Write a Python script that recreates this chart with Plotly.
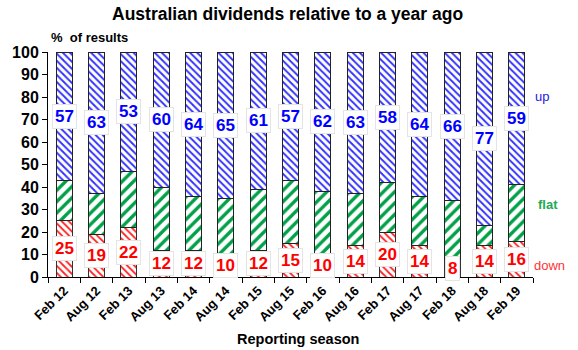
import plotly.graph_objects as go

seasons = ["Feb 12", "Aug 12", "Feb 13", "Aug 13", "Feb 14", "Aug 14", "Feb 15", "Aug 15",
           "Feb 16", "Aug 16", "Feb 17", "Aug 17", "Feb 18", "Aug 18", "Feb 19"]
down = [25, 19, 22, 12, 12, 10, 12, 15, 10, 14, 20, 14, 8, 14, 16]
up = [57, 63, 53, 60, 64, 65, 61, 57, 62, 63, 58, 64, 66, 77, 59]
flat = [100 - u - d for u, d in zip(up, down)]

FONT = "Liberation Sans, Arial, sans-serif"
BLUE = "#3030FF"
GREEN = "#00A048"
RED = "#FF2020"

fig = go.Figure()
fig.add_bar(x=seasons, y=down, name="down",
            marker=dict(color="white", line=dict(color="#333333", width=1),
                        pattern=dict(shape="\\", fgcolor=RED, bgcolor="white", size=5, fgopacity=1, solidity=0.35)))
fig.add_bar(x=seasons, y=flat, name="flat",
            marker=dict(color="white", line=dict(color="#222222", width=1),
                        pattern=dict(shape="/", fgcolor=GREEN, bgcolor="white", size=8, fgopacity=1, solidity=0.42)))
fig.add_bar(x=seasons, y=up, name="up",
            marker=dict(color="white", line=dict(color="#222222", width=1),
                        pattern=dict(shape="\\", fgcolor=BLUE, bgcolor="white", size=5, fgopacity=1, solidity=0.38)))

W, H = 578, 350
L, R, T, B = 48, 45, 52, 73
pw, ph = W - L - R, H - T - B

ann = []
for s, d, f, u in zip(seasons, down, flat, up):
    ann.append(dict(x=s, y=d + f + u / 2, xref="x", yref="y", text=str(u), showarrow=False,
                    font=dict(family=FONT, size=17, color="#0000FF", weight="bold"),
                    bgcolor="white", bordercolor="#E4E4E4", borderwidth=1, borderpad=2))
    ann.append(dict(x=s, y=d / 2, xref="x", yref="y", text=str(d), showarrow=False,
                    font=dict(family=FONT, size=17, color="#FF0000", weight="bold"),
                    bgcolor="white", bordercolor="#E4E4E4", borderwidth=1, borderpad=2))


def px(xp, yp):
    return (xp - L) / pw, 1 - (yp - T) / ph


extra = [
    ("Australian dividends relative to a year ago", 287, 14, 17.5, "black", "bold", "center"),
    ("%  of results", 49, 37, 13, "black", "bold", "left"),
    ("Reporting season", 298, 339, 14.5, "black", "bold", "center"),
    ("up", 533, 96, 13, "#2222DD", "normal", "left"),
    ("flat", 536, 204, 13, "#22AA55", "bold", "left"),
    ("down", 532, 265, 13, "#FF3333", "normal", "left"),
]
for text, xp, yp, size, color, weight, anchor in extra:
    xx, yy = px(xp, yp)
    ann.append(dict(x=xx, y=yy, xref="paper", yref="paper", text=text, showarrow=False,
                    xanchor=anchor, yanchor="middle",
                    font=dict(family=FONT, size=size, color=color, weight=weight)))

fig.update_layout(
    annotations=ann,
    width=W, height=H, barmode="stack", bargap=0.5, showlegend=False,
    margin=dict(l=L, r=R, t=T, b=B),
    plot_bgcolor="white", paper_bgcolor="white",
    font=dict(family=FONT, color="black"),
    xaxis=dict(showline=True, linecolor="black", linewidth=1, ticks="outside", tickson="boundaries",
               ticklen=5, tickcolor="black", tickangle=-45,
               tickfont=dict(family=FONT, size=13, weight="bold"), showgrid=False),
    yaxis=dict(range=[0, 100], dtick=10, showline=True, linecolor="black", linewidth=1,
               ticks="outside", ticklen=5, tickcolor="black", showgrid=False, zeroline=False,
               tickfont=dict(family=FONT, size=16, weight="bold")),
)

fig.write_html("out.html")
